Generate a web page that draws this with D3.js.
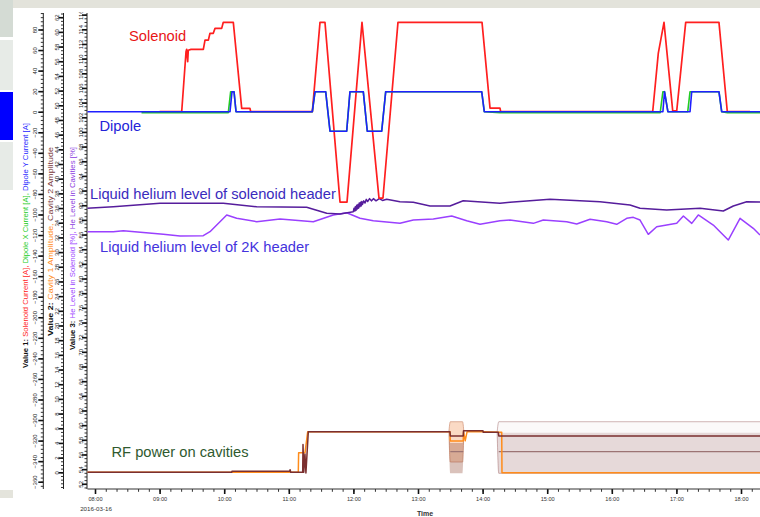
<!DOCTYPE html>
<html>
<head>
<meta charset="utf-8">
<script src="https://cdn.jsdelivr.net/npm/d3@7"></script>
<style>
  body { margin: 0; background: #fff; }
  svg { display: block; font-family: "Liberation Sans", Arial, sans-serif; }
</style>
</head>
<body>
<div id="output"></div>
<script>
// time is in hours on 2016-03-16

// Value 1 axis [A]
const solenoidCurrent = [
  [9.0, 0], [9.342, 0], [9.409, 58.4], [9.419, 60.7], [9.435, 48.6], [9.444, 59.8], [9.486, 60.7],
  [9.677, 60.7], [9.703, 69.7], [9.755, 69.7], [9.780, 76.3], [9.831, 76.3], [9.858, 81.1],
  [9.961, 81.1], [9.986, 87], [10.141, 87], [10.271, 3.3], [10.399, 3.3], [10.41, 0],
  [11.364, 0], [11.483, 87], [11.560, 87], [11.793, -88], [11.901, -88], [12.133, 87],
  [12.396, -84], [12.458, -84], [12.690, 87], [13.991, 87], [14.115, 3.5], [14.269, 3.5], [14.28, 0],
  [16.633, 0], [16.720, 57], [16.808, 87], [16.943, 0.8], [17.005, 0.8], [17.144, 87],
  [17.659, 87], [17.788, 0], [18.14, 0]
];
const dipoleX = [
  [8.72, -1], [10.063, -1], [10.100, 19.5], [10.152, 19.5], [10.183, 0], [11.364, 0],
  [11.406, 19.5], [11.571, 19.5], [11.638, -19], [11.896, -19], [11.947, 19.5], [12.153, 19.5],
  [12.215, -19], [12.438, -19], [12.500, 19.5], [13.986, 19.5], [14.026, 0], [14.27, -1],
  [16.749, -1], [16.791, 19.5], [16.816, 19.5], [16.868, 0], [17.175, 0], [17.211, 19.5],
  [17.659, 19.5], [17.701, 0], [17.79, -1], [18.4, -1]
];
const dipoleY = [
  [7.85, 0], [10.090, 0], [10.121, 19.5], [10.152, 19.5], [10.183, 0], [11.364, 0],
  [11.406, 19.5], [11.571, 19.5], [11.638, -19], [11.896, -19], [11.947, 19.5], [12.153, 19.5],
  [12.215, -19], [12.438, -19], [12.500, 19.5], [13.986, 19.5], [14.026, 0], [16.791, 0],
  [16.816, 19.5], [16.868, 0], [17.211, 0], [17.237, 19.5], [17.659, 19.5], [17.701, 0], [18.4, 0]
];

// Value 2 axis: cavity amplitudes
const cavity1 = [
  [7.85, 0], [11.147, 0], [11.152, 2.67], [11.251, 2.67], [11.293, 5.53], [13.495, 5.53],
  [13.50, 4.26], [13.70, 4.26], [13.705, 5.53], [13.73, 4.3], [13.76, 5.53], [14.006, 5.53],
  [14.243, 5.45], [14.296, 5.45], [14.30, -0.05], [18.4, -0.05]
];
const cavity2 = [
  [7.85, 0], [10.116, 0], [10.12, 0.15], [11.015, 0.15], [11.02, 0.35], [11.03, 0],
  [11.215, 0], [11.22, 3.8], [11.232, 0], [11.25, 2.5], [11.265, -0.1], [11.302, 5.53],
  [13.495, 5.53], [13.50, 4.95], [13.70, 4.95], [13.705, 5.67], [14.006, 5.67], [14.01, 5.45],
  [14.243, 5.45], [14.25, 4.95], [18.4, 4.95]
];
const cavityMid = [
  [13.50, 2.81], [13.70, 2.81], [13.71, null], [14.25, 2.81], [18.4, 2.81]
];
// min / max envelopes [time, low, high]
const cavity1Band = [
  [13.478, 5.5, 5.5], [13.50, 1.4, 6.89], [13.69, 1.4, 6.89], [13.71, 5.5, 5.5]
];
const cavity2Band = [
  [13.478, 5.0, 5.0], [13.50, -0.14, 4.0], [13.69, -0.14, 4.0], [13.71, 5.0, 5.0]
];
const cavityOuterBand = [
  [14.225, 5.45, 5.45], [14.25, -0.14, 6.89], [18.4, -0.14, 6.89]
];
const cavityInnerBand = [
  [14.225, 5.4, 5.4], [14.25, -0.14, 5.4], [18.4, -0.14, 5.4]
];

// Value 3 axis: He levels [%]
const heSolenoid = [
  [7.85, 89.58], [8.283, 89.80], [9.006, 90.26], [9.986, 90.26], [10.503, 89.80], [11.277, 89.72],
  [11.379, 89.44], [11.587, 88.90], [11.793, 88.80], [11.998, 89.12], [12.01, 89.6], [12.02, 89.2],
  [12.03, 89.8], [12.04, 89.3], [12.05, 90.0], [12.06, 89.5], [12.07, 90.1], [12.08, 89.6],
  [12.09, 90.3], [12.10, 89.8], [12.11, 90.4], [12.12, 89.9], [12.13, 90.5], [12.14, 90.1],
  [12.16, 90.6], [12.18, 90.3], [12.20, 90.8], [12.22, 90.5], [12.25, 90.9], [12.28, 90.6],
  [12.31, 90.9], [12.35, 90.6], [12.40, 90.9], [12.45, 90.65], [12.515, 90.81], [12.721, 90.48],
  [12.927, 90.40], [13.186, 89.89], [13.495, 89.89], [13.700, 90.62], [14.269, 90.26],
  [14.424, 90.40], [15.043, 90.81], [15.817, 90.48], [16.282, 90.03], [16.437, 89.58],
  [16.850, 89.35], [17.367, 89.58], [17.726, 89.21], [17.881, 89.89], [18.088, 90.48], [18.4, 90.40]
];
const heCavities = [
  [7.85, 86.39], [8.283, 86.39], [8.438, 86.52], [9.057, 86.03], [9.316, 85.80], [9.676, 85.84],
  [9.780, 86.39], [9.935, 87.75], [10.039, 88.67], [10.193, 88.22], [10.503, 87.75], [10.864, 88.12],
  [11.379, 87.75], [11.689, 88.67], [11.896, 88.98], [12.102, 88.22], [12.308, 87.89], [12.721, 87.53],
  [12.927, 87.98], [13.237, 88.12], [13.522, 88.53], [13.754, 87.89], [13.960, 87.40], [14.269, 87.89],
  [14.424, 87.98], [14.785, 87.53], [14.940, 87.98], [15.302, 87.75], [15.457, 87.44], [15.663, 88.08],
  [15.921, 87.75], [16.076, 87.40], [16.231, 88.22], [16.333, 88.35], [16.437, 87.98], [16.565, 86.03],
  [16.695, 87.07], [16.850, 87.30], [17.005, 87.53], [17.108, 88.53], [17.238, 87.53], [17.339, 88.67],
  [17.571, 87.30], [17.803, 85.25], [17.985, 88.22], [18.190, 86.85], [18.294, 85.94]
];

// tick values
const ticks1 = d3.range(-360, 81, 20);
const ticks2 = d3.range(0, 63, 2);
const ticks3 = d3.range(52, 117, 2);

const plot = { left: 87.5, right: 760, top: 13, bottom: 489 };
const day = new Date(2016, 2, 16);
const toDate = (h) => new Date(day.getTime() + h * 3600e3);

const x = d3.scaleTime().domain([toDate(8), toDate(18)]).range([95, 741]);
const y1 = d3.scaleLinear().domain([-360, 80]).range([481.7, 29.5]);
const y2 = d3.scaleLinear().domain([0, 62]).range([472.3, 17.2]);
const y3 = d3.scaleLinear().domain([52, 114]).range([483.8, 29.3]);

const svg = d3.select("#output").append("svg").attr("width", 760).attr("height", 517);

const defs = svg.append("defs");
defs.append("clipPath").attr("id", "plot-clip").append("rect")
  .attr("x", plot.left).attr("y", plot.top)
  .attr("width", plot.right - plot.left).attr("height", plot.bottom - plot.top);
defs.append("clipPath").attr("id", "axis-clip").append("rect")
  .attr("x", 0).attr("y", plot.top - 1).attr("width", 100).attr("height", 500);

// window chrome around the chart
svg.append("rect").attr("x", 13).attr("y", 0).attr("width", 747).attr("height", 8).attr("fill", "#e3e3db");
svg.append("rect").attr("x", 0).attr("y", 0).attr("width", 13).attr("height", 37).attr("fill", "#d4dbd4");
svg.append("rect").attr("x", 0).attr("y", 40).attr("width", 13).attr("height", 50).attr("fill", "#e7ebe7");
svg.append("rect").attr("x", 0).attr("y", 92).attr("width", 13).attr("height", 48).attr("fill", "#0000ff");
svg.append("rect").attr("x", 0).attr("y", 142).attr("width", 13).attr("height", 48).attr("fill", "#e7ebe7");
svg.append("rect").attr("x", 0).attr("y", 490).attr("width", 13).attr("height", 8).attr("fill", "#e4e4dc");

// y axes
function yAxis(scale, xPos, major, minorStep, labelOff) {
  const [lo, hi] = [scale.invert(plot.bottom), scale.invert(plot.top)];
  const minor = d3.range(Math.ceil(lo / minorStep) * minorStep, hi, minorStep);
  const wrap = svg.append("g").attr("clip-path", "url(#axis-clip)");
  const g = wrap.append("g").attr("transform", `translate(${xPos},0)`);

  g.append("g").call(d3.axisLeft(scale).tickValues(minor).tickSize(2.5).tickFormat(""))
    .call((s) => s.select(".domain").remove())
    .selectAll("line").attr("stroke", "#333");

  const m = g.append("g").call(d3.axisLeft(scale).tickValues(major).tickSize(5))
    .attr("font-size", 6).attr("font-family", null);
  m.select(".domain").remove();
  m.selectAll("line").attr("stroke", "#111").attr("stroke-width", 1.6);
  m.selectAll("text")
    .attr("transform", "rotate(-90)")
    .attr("x", 0).attr("y", -labelOff).attr("dy", 0)
    .attr("text-anchor", "middle").attr("fill", "#222");

  g.append("line").attr("y1", plot.top).attr("y2", plot.bottom).attr("stroke", "#222");
}
yAxis(y1, 43.3, ticks1, 4, 6.3);
yAxis(y2, 63.5, ticks2, 0.5, 4.5);
yAxis(y3, 87, ticks3, 0.5, 4);

// axis titles, rotated and coloured per series
const titles = [
  { x: 28, y: 368, len: 245, parts: [["Value 1: ", "#111", "bold"], ["Solenoid Current [A], ", "#ff1a1a"],
    ["Dipole X Current [A], ", "#22cc22"], ["Dipole Y Current [A]", "#2222ff"]] },
  { x: 52.5, y: 336, len: 189, parts: [["Value 2: ", "#111", "bold"], ["Cavity 1 Amplitude, ", "#ff8c1a"],
    ["Cavity 2 Amplitude", "#7b3a3a"]] },
  { x: 75, y: 350, len: 203, parts: [["Value 3: ", "#111", "bold"], ["He Level in Solenoid [%], ", "#9a40ff"],
    ["He Level in Cavities [%]", "#8a3ae0"]] }
];
titles.forEach((t) => {
  const text = svg.append("text")
    .attr("transform", `translate(${t.x},${t.y}) rotate(-90)`)
    .attr("font-size", 6.8)
    .attr("textLength", t.len).attr("lengthAdjust", "spacingAndGlyphs");
  t.parts.forEach((p) => {
    text.append("tspan").attr("fill", p[1]).attr("font-weight", p[2] || "normal").text(p[0]);
  });
});

// x axis
const xg = svg.append("g").attr("transform", `translate(0,${plot.bottom})`);
xg.append("g")
  .call(d3.axisBottom(x).tickValues(d3.timeMinute.every(10).range(toDate(7.9), toDate(18.3))).tickSize(2.8).tickFormat(""))
  .call((s) => s.select(".domain").remove())
  .selectAll("line").attr("stroke", "#333");
const xm = xg.append("g")
  .call(d3.axisBottom(x).tickValues(d3.timeHour.range(toDate(8), toDate(18.01))).tickSize(5).tickPadding(3)
    .tickFormat(d3.timeFormat("%H:%M")))
  .attr("font-size", 5.6).attr("font-family", null);
xm.select(".domain").remove();
xm.selectAll("line").attr("stroke", "#111").attr("stroke-width", 1.6);
xm.selectAll("text").attr("fill", "#333");
xg.append("line").attr("x1", plot.left).attr("x2", plot.right).attr("stroke", "#333");

svg.append("text").attr("x", 96).attr("y", 510.5).attr("text-anchor", "middle")
  .attr("font-size", 6.2).attr("fill", "#333").text("2016-03-16");
svg.append("text").attr("x", 425).attr("y", 515.5).attr("text-anchor", "middle")
  .attr("font-size", 7).attr("font-weight", "bold").attr("fill", "#333").text("Time");

// series
const chart = svg.append("g").attr("clip-path", "url(#plot-clip)");
const lineFor = (scale) => d3.line()
  .defined((d) => d[1] != null)
  .x((d) => x(toDate(d[0])))
  .y((d) => scale(d[1]));
const bandFor = (scale) => d3.area()
  .x((d) => x(toDate(d[0])))
  .y0((d) => scale(d[1]))
  .y1((d) => scale(d[2]))
  .curve(d3.curveMonotoneX);

function drawLine(data, scale, color, width) {
  chart.append("path").datum(data)
    .attr("fill", "none").attr("stroke", color).attr("stroke-width", width)
    .attr("stroke-linejoin", "round")
    .attr("d", lineFor(scale));
}
function drawBand(data, scale, fill, stroke) {
  chart.append("path").datum(data)
    .attr("fill", fill).attr("stroke", stroke || "none").attr("stroke-width", 1)
    .attr("d", bandFor(scale));
}

drawLine(heCavities, y3, "#9a40ff", 1.5);
drawLine(heSolenoid, y3, "#561d9c", 1.5);

drawBand(cavityOuterBand, y2, "rgba(160,100,100,0.04)", "rgba(150,90,90,0.45)");
drawBand(cavityInnerBand, y2, "rgba(150,90,90,0.2)");
drawBand(cavity1Band, y2, "rgba(240,150,90,0.35)", "rgba(200,130,100,0.6)");
drawBand(cavity2Band, y2, "rgba(150,80,60,0.35)");
drawLine(cavityMid, y2, "#9c7474", 1.2);
drawLine(cavity1, y2, "#ff8c1a", 1.5);
drawLine(cavity2, y2, "#7b2f2f", 1.5);

drawLine(solenoidCurrent, y1, "#ff1f1f", 1.7);
drawLine(dipoleX, y1, "#22cc22", 1.6);
drawLine(dipoleY, y1, "#1f1fff", 1.6);

// annotations
const notes = [
  { text: "Solenoid", x: 129, y: 41, color: "#e81616" },
  { text: "Dipole", x: 99.5, y: 130.5, color: "#2323d8" },
  { text: "Liquid helium level of solenoid header", x: 90, y: 198.5, color: "#3a2bbd" },
  { text: "Liquid helium level of 2K header", x: 100, y: 252, color: "#4433dd" },
  { text: "RF power on cavities", x: 111.5, y: 457.2, color: "#2f5a2f" }
];
svg.append("g").selectAll("text").data(notes).join("text")
  .attr("x", (d) => d.x).attr("y", (d) => d.y)
  .attr("font-size", 14.7).attr("fill", (d) => d.color)
  .text((d) => d.text);
</script>
</body>
</html>
